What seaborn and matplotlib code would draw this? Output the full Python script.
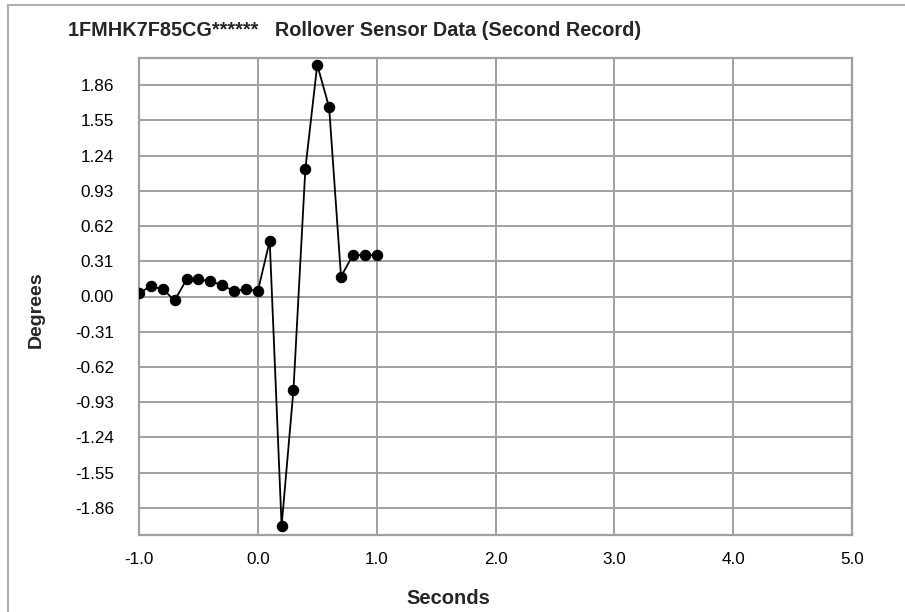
import matplotlib
matplotlib.use("Agg")
import matplotlib.pyplot as plt
import seaborn as sns
import pandas as pd
import numpy as np
from matplotlib.patches import Rectangle

seconds = [-1.0, -0.9, -0.8, -0.7, -0.6, -0.5, -0.4, -0.3, -0.2, -0.1, 0.0,
           0.1, 0.2, 0.3, 0.4, 0.5, 0.6, 0.7, 0.8, 0.9, 1.0]
degrees = [0.03, 0.09, 0.065, -0.035, 0.15, 0.15, 0.135, 0.10, 0.047, 0.065, 0.047,
           0.49, -2.02, -0.82, 1.125, 2.04, 1.665, 0.175, 0.365, 0.365, 0.365]
y_ticks = [-1.86, -1.55, -1.24, -0.93, -0.62, -0.31, 0.00, 0.31, 0.62, 0.93, 1.24, 1.55, 1.86]
x_ticks = [-1.0, 0.0, 1.0, 2.0, 3.0, 4.0, 5.0]
title = "1FMHK7F85CG******   Rollover Sensor Data (Second Record)"

df = pd.DataFrame({"Seconds": seconds, "Degrees": degrees})

sns.set_theme(style="white")
plt.rcParams['font.family'] = ['Liberation Sans', 'DejaVu Sans']

W, H = 905, 612
fig = plt.figure(figsize=(W / 100, H / 100), dpi=100)
ax = fig.add_axes([139 / W, 1 - 535 / H, (852 - 139) / W, (535 - 58) / H])

grid_c = "#A0A0A0"
sns.lineplot(data=df, x="Seconds", y="Degrees", ax=ax, color="black",
             linewidth=1.3, marker="o", markersize=7.5, markeredgecolor="black",
             markerfacecolor="black", zorder=3)

ax.set_xlim(-1.0, 5.0)
ax.set_ylim(-2.10, 2.10)
ax.set_xticks(x_ticks)
ax.set_xticklabels([f"{v:.1f}" for v in x_ticks])
ax.set_yticks(y_ticks)
ax.set_yticklabels([f"{v:.2f}" for v in y_ticks])
ax.grid(True, color=grid_c, linewidth=1.4)
ax.set_axisbelow(True)
for s in ax.spines.values():
    s.set_color(grid_c)
    s.set_linewidth(1.6)
ax.tick_params(axis="both", labelsize=12.3, colors=grid_c, labelcolor="black",
               length=4, width=1.4, direction="out")
ax.tick_params(axis="x", pad=8)
ax.tick_params(axis="y", pad=18, length=0)
ax.set_xlabel("")
ax.set_ylabel("")

fig.text(68 / W, 1 - 31 / H, title, fontsize=14.3, fontweight="bold",
         ha="left", va="center")
fig.text(448 / W, 1 - 599 / H, "Seconds", fontsize=14.5, fontweight="bold",
         ha="center", va="center")
fig.text(36.5 / W, 1 - 310 / H, "Degrees", fontsize=14, fontweight="bold",
         ha="center", va="center", rotation=90)

fig.patches.append(Rectangle((8 / W, -0.05), 1.2, 1 - 5 / H + 0.05,
                             transform=fig.transFigure, fill=False,
                             edgecolor="#B0B0B0", linewidth=1.5))

fig.savefig("out.png", dpi=100, facecolor="white")
